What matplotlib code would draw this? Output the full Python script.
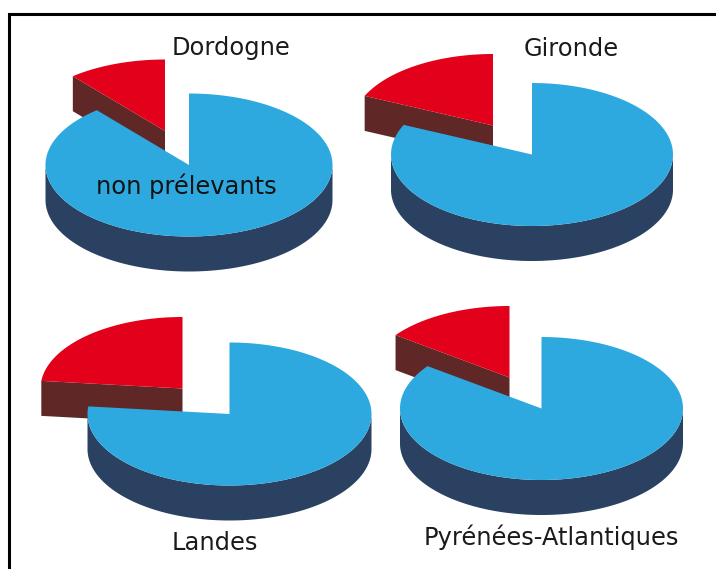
import numpy as np
import matplotlib
matplotlib.use('Agg')
import matplotlib.pyplot as plt

# part des prelevants (rouge), le reste est en bleu
departements = ['Dordogne', 'Gironde', 'Landes', 'Pyrénées-Atlantiques']
prelevants = [0.111, 0.182, 0.233, 0.149]
non_prelevants = [1 - p for p in prelevants]

# mise en page, en pixels
centres = [(189, 165), (532, 154.5), (229.5, 414), (541.5, 408.5)]
rayons_x = [143.5, 141, 142, 141.5]
decalages = [(-24, -34), (-39, -29), (-47, -25.5), (-32, -31)]
pos_titres = [(231.5, 48), (571, 49), (215, 543), (551, 537)]
RAYON_Y = 71.5
EPAISSEUR = 35

BLEU = '#2EA9DF'
BLEU_FONCE = '#2A4161'
ROUGE = '#E2001A'
ROUGE_FONCE = '#5F2826'


def point(cx, cy, rx, angle):
    return cx + rx * np.cos(angle), cy - RAYON_Y * np.sin(angle)


def dessiner_camembert(ax, part, cx, cy, rx, dx, dy):
    limite = np.pi / 2 + 2 * np.pi * part

    # tranche rouge, detachee : seule la coupe est visible en dessous
    rx0, ry0 = cx + dx, cy + dy
    gx, gy = point(rx0, ry0, rx, limite)
    ax.fill([gx, rx0, rx0, gx], [gy, ry0, ry0 + EPAISSEUR, gy + EPAISSEUR],
            color=ROUGE_FONCE, lw=0, zorder=1)
    a = np.linspace(np.pi / 2, limite, 100)
    x, y = point(rx0, ry0, rx, a)
    ax.fill(np.r_[rx0, x], np.r_[ry0, y], color=ROUGE, lw=0, zorder=2)

    # flanc du disque bleu
    a = np.linspace(np.pi, 2 * np.pi, 200)
    x, y = point(cx, cy, rx, a)
    ax.fill(np.r_[x, x[::-1]], np.r_[y, y[::-1] + EPAISSEUR],
            color=BLEU_FONCE, lw=0, zorder=3)

    # dessus du disque bleu
    a = np.linspace(limite, np.pi / 2 + 2 * np.pi, 400)
    x, y = point(cx, cy, rx, a)
    ax.fill(np.r_[cx, x], np.r_[cy, y], color=BLEU, lw=0, zorder=4)


fig = plt.figure(figsize=(7.16, 5.69), dpi=100)
ax = fig.add_axes([0, 0, 1, 1])
ax.set_xlim(0, 716)
ax.set_ylim(569, 0)
ax.axis('off')

for i in range(len(departements)):
    cx, cy = centres[i]
    dx, dy = decalages[i]
    dessiner_camembert(ax, prelevants[i], cx, cy, rayons_x[i], dx, dy)
    ax.text(pos_titres[i][0], pos_titres[i][1], departements[i], fontsize=17.4,
            color='#1a1a1a', ha='center', va='center', zorder=6)

ax.text(186.5, 186, 'non prélevants', fontsize=17.4, color='#111111',
        ha='center', va='center', zorder=6)

# cadre noir, coupe a droite et en bas
ax.plot([8.5, 8.5, 716], [569, 13.5, 13.5], color='black', lw=2.2, zorder=7,
        solid_joinstyle='miter')

fig.savefig('out.png', dpi=100)
